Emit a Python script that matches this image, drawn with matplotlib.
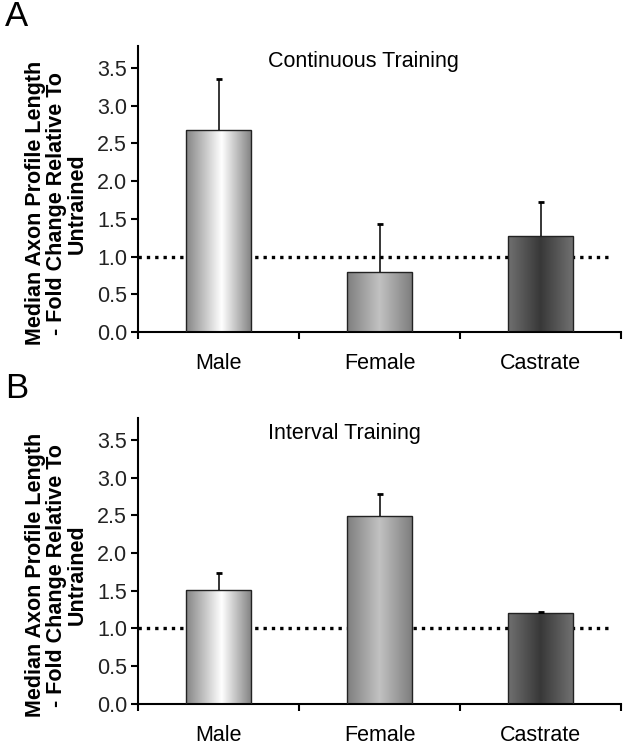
import numpy as np
import matplotlib
matplotlib.use("Agg")
import matplotlib.pyplot as plt
from matplotlib.colors import to_rgb

plt.rcParams.update({
    "font.family": ["Liberation Sans", "DejaVu Sans"],
    "font.size": 15.5,
    "axes.linewidth": 1.5,
})

# ---- data ----
categories = ["Male", "Female", "Castrate"]
cont_values = [2.68, 0.79, 1.27]
cont_err = [0.67, 0.64, 0.45]
interval_values = [1.51, 2.49, 1.20]
interval_err = [0.23, 0.29, 0.01]
panel_titles = ["Continuous Training", "Interval Training"]
panel_letters = ["A", "B"]
reference_level = 1.0

# ---- styles: (edge colour, centre colour, centre position) per bar ----
GRADS = [("#858585", "#ffffff", 0.55),
         ("#7e7e7e", "#c2c2c2", 0.50),
         ("#707070", "#383838", 0.50)]
YLABEL = "Median Axon Profile Length\n- Fold Change Relative To\nUntrained"
FS = 15.5


def gradient(edge, centre, pos, n=200):
    t = np.linspace(0, 1, n)
    w = np.where(t < pos, t / pos, (1 - t) / (1 - pos))
    e, c = np.array(to_rgb(edge)), np.array(to_rgb(centre))
    return (e[None, :] * (1 - w[:, None]) + c[None, :] * w[:, None])[None, :, :]


def panel(ax, values, err, title, letter):
    x = np.arange(len(categories))
    top = np.array(values) + np.array(err)
    ax.plot([-0.5, 2.44], [reference_level] * 2, color="black", lw=2.4,
            ls=(0, (1, 1.5)), zorder=1)
    bars = ax.bar(x, values, width=0.4, color="none", edgecolor="#222222",
                  lw=1.0, zorder=3)
    for b, (e, c, p) in zip(bars, GRADS):
        x0, w, h = b.get_x(), b.get_width(), b.get_height()
        im = ax.imshow(gradient(e, c, p), extent=[x0, x0 + w, 0, h],
                       aspect="auto", zorder=2, interpolation="bilinear")
        im.set_clip_path(b)
    # upper error bars only
    ax.vlines(x, values, top, color="black", lw=1.1, zorder=4)
    ax.plot(x, top, ls="none", marker="_", ms=5, mew=2, color="black", zorder=4)

    ax.set_xlim(-0.5, 2.5)
    ax.set_ylim(0, 3.79)
    ticks = np.arange(0, 3.6, 0.5)
    ax.set_yticks(ticks)
    ax.set_yticklabels([f"{v:.1f}" for v in ticks], color="#222222")
    ax.set_xticks([-0.5, 0.5, 1.5, 2.5])
    ax.set_xticklabels([])
    ax.set_xticks(x, minor=True)
    ax.set_xticklabels(categories, minor=True, fontsize=FS)
    ax.tick_params(axis="x", which="minor", length=0, pad=15)
    ax.tick_params(axis="x", which="major", length=5, width=1.5, direction="out")
    ax.tick_params(axis="y", length=5, width=1.5, labelsize=FS, pad=3)
    for s in ("top", "right"):
        ax.spines[s].set_visible(False)
    ax.set_ylabel(YLABEL, fontweight="bold", fontsize=FS, linespacing=1.0)
    ax.yaxis.set_label_coords(-0.104, 0.45)
    ax.text(0.31, 3.58, title, fontsize=FS, va="center", ha="left")
    ax.text(-0.275, 1.045, letter, transform=ax.transAxes, fontsize=25,
            ha="left", va="bottom")


fig = plt.figure(figsize=(6.29, 7.48), dpi=100)
ax_a = fig.add_axes([0.2194, 0.5561, 0.768, 0.3824])
ax_b = fig.add_axes([0.2194, 0.0592, 0.768, 0.3820])
panel(ax_a, cont_values, cont_err, panel_titles[0], panel_letters[0])
panel(ax_b, interval_values, interval_err, panel_titles[1], panel_letters[1])

fig.savefig("out.png", dpi=100)
